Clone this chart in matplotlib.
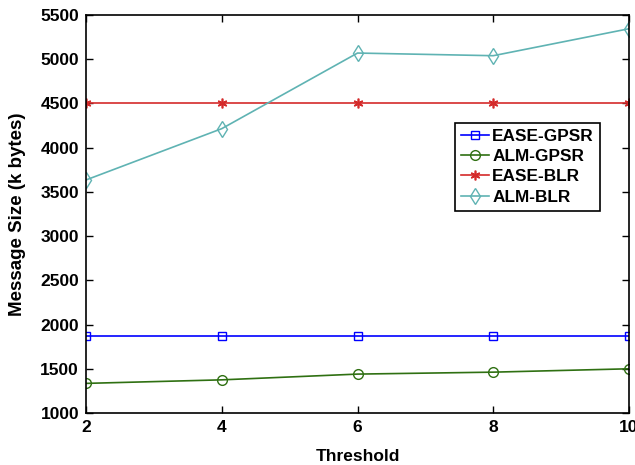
import matplotlib
matplotlib.use('Agg')
import matplotlib.pyplot as plt

plt.rcParams['font.family'] = ['Liberation Sans', 'DejaVu Sans']
plt.rcParams['font.weight'] = 'bold'

threshold = [2, 4, 6, 8, 10]
ease_gpsr = [1870, 1870, 1870, 1870, 1870]
alm_gpsr = [1335, 1375, 1440, 1462, 1500]
ease_blr = [4500, 4500, 4500, 4500, 4500]
alm_blr = [3635, 4215, 5070, 5040, 5345]

fig = plt.figure(figsize=(6.35, 4.65), dpi=100)
ax = fig.add_axes([0.1354, 0.1118, 0.8552, 0.8559])

ax.plot(threshold, ease_gpsr, '-s', color='#0000ff', mfc='none', ms=6, lw=1.2, label='EASE-GPSR')
ax.plot(threshold, alm_gpsr, '-o', color='#2f7012', mfc='none', ms=7, lw=1.2, label='ALM-GPSR')
ax.plot(threshold, ease_blr, '-', marker=(6, 2, 0), color='#d42a2a', ms=7, mew=1.2, lw=1.2, label='EASE-BLR')
ax.plot(threshold, alm_blr, '-d', color='#5fb3b3', mfc='none', ms=8, lw=1.2, label='ALM-BLR')

ax.set_xlim(2, 10)
ax.set_ylim(1000, 5500)
ax.set_xticks([2, 4, 6, 8, 10])
ax.set_yticks(range(1000, 5501, 500))
ax.tick_params(direction='in', top=True, right=True, labelsize=12.5, width=1, length=5, pad=5)
for s in ax.spines.values():
    s.set_linewidth(1.2)

ax.set_xlabel('Threshold', fontsize=12.5, fontweight='bold', labelpad=10)
ax.set_ylabel('Message Size (k bytes)', fontsize=13.5, fontweight='bold', labelpad=10)

leg = ax.legend(loc='upper left', bbox_to_anchor=(0.68, 0.729), fontsize=12.4,
                fancybox=False, framealpha=1, edgecolor='black', borderpad=0.35,
                borderaxespad=0, labelspacing=0.3, handlelength=1.6, handletextpad=0.2)
leg.get_frame().set_linewidth(1.2)

plt.savefig('out.png', dpi=100)
